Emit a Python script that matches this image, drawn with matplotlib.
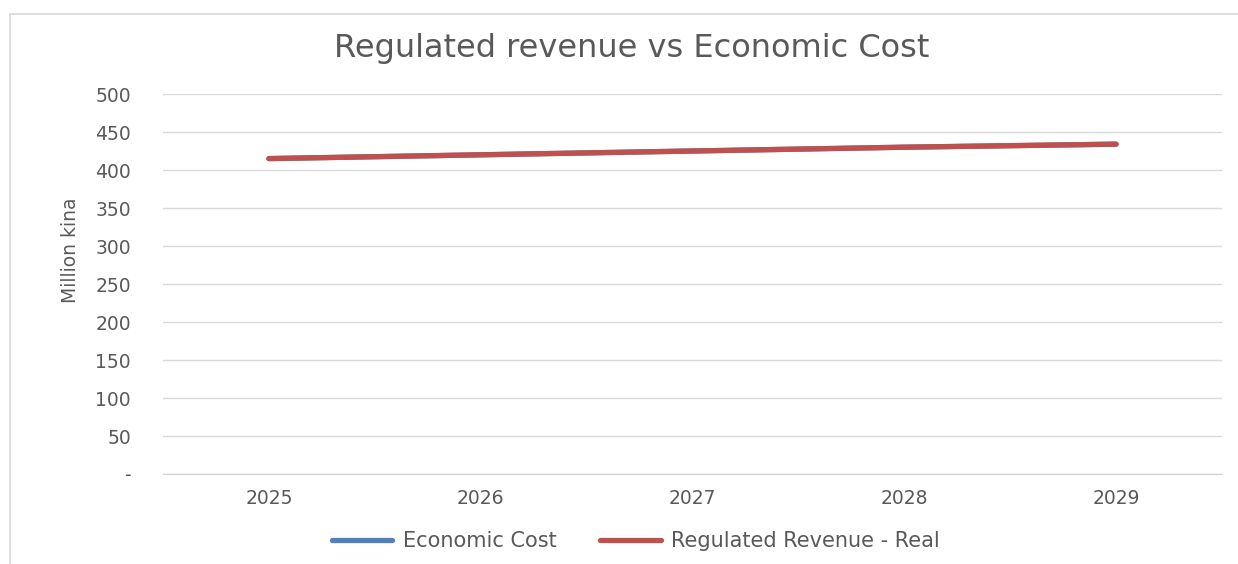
import numpy as np
import matplotlib.pyplot as plt
from matplotlib.patches import Rectangle
from matplotlib.ticker import FuncFormatter
from matplotlib import font_manager

plt.rcParams['font.family'] = ['DejaVu Sans']

years = ['2025', '2026', '2027', '2028', '2029']
economic_cost = [415, 420, 425, 430, 434]
regulated_revenue = [415, 420, 425, 430, 434]

W, H = 1238, 564
fig = plt.figure(figsize=(W/100, H/100), dpi=100)
fig.patch.set_facecolor('white')

# chart frame, runs off the right and bottom edges
fig.patches.append(Rectangle((10/W, -0.1), 1.2, 1 - 14/H + 0.1,
                             transform=fig.transFigure, fill=False,
                             edgecolor='#d9d9d9', linewidth=1.2))

ax = fig.add_axes([163/W, 1 - 474/H, (1222 - 163)/W, (474 - 94)/H])
x = np.arange(len(years))
ax.plot(x, economic_cost, color='#4f81bd', lw=3.8, solid_capstyle='round',
        label='Economic Cost')
ax.plot(x, regulated_revenue, color='#c0504d', lw=3.8, solid_capstyle='round',
        label='Regulated Revenue - Real')

ax.set_xlim(-0.5, len(years) - 0.5)
ax.set_ylim(0, 500)
ax.set_yticks(np.arange(0, 501, 50))
ax.yaxis.set_major_formatter(FuncFormatter(lambda v, p: '-' if v == 0 else f'{int(v)}'))
ax.set_xticks(x)
ax.set_xticklabels(years)
ax.grid(axis='y', color='#d9d9d9', lw=1)
ax.set_axisbelow(True)
for s in ['top', 'right', 'left']:
    ax.spines[s].set_visible(False)
ax.spines['bottom'].set_color('#d0d0d0')
ax.tick_params(axis='both', length=0, colors='#595959', labelsize=13.5)
ax.tick_params(axis='y', pad=23)
ax.tick_params(axis='x', pad=11)

names = {f.name for f in font_manager.fontManager.ttflist}
narrow = 'Liberation Sans Narrow' if 'Liberation Sans Narrow' in names else 'DejaVu Sans'
ax.set_ylabel('Million kina', fontsize=15 if narrow != 'DejaVu Sans' else 13.5,
              color='#595959', family=narrow)
ax.yaxis.set_label_coords(-83/1059, 0.59)

fig.text(632/W, 1 - 48/H, 'Regulated revenue vs Economic Cost', ha='center',
         va='center', fontsize=23, color='#595959')

fig.legend(loc='center', bbox_to_anchor=(636/W, 1 - 541/H), ncol=2, frameon=False,
           fontsize=15, labelcolor='#595959', handlelength=2.9, columnspacing=2.1,
           handletextpad=0.5)

fig.savefig('out.png', dpi=100)
